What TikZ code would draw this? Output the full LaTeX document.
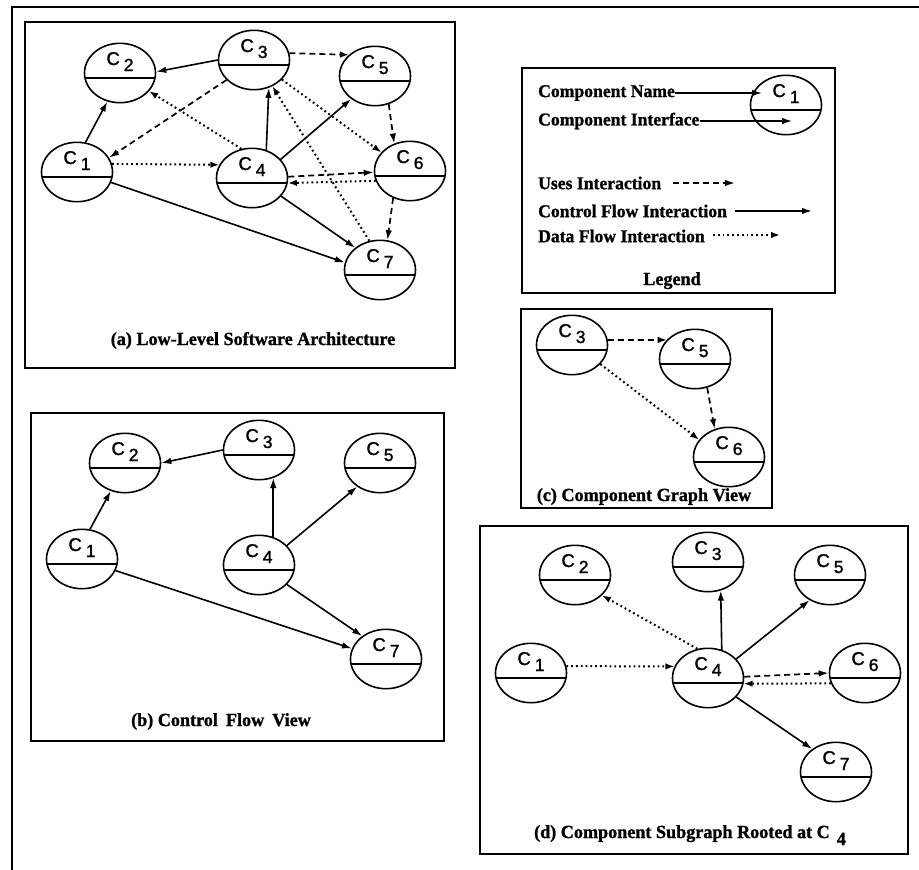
\documentclass[tikz,border=0pt]{standalone}
\usepackage{fontspec}
\setmainfont{Liberation Serif}[FakeStretch=0.98, BoldFeatures={FakeBold=1.2}]
\newfontfamily\labfont{Liberation Sans}[FakeBold=1.3]
\usetikzlibrary{arrows.meta,shapes.geometric}

% component name: C with a lowered index
\newcommand\cname[1]{C\kern4pt\raisebox{-6pt}{\fontsize{17.5}{17.5}\selectfont #1}}

\tikzset{
  comp/.style={ellipse, draw, line width=1.6pt, minimum width=71pt, minimum height=59pt,
    inner sep=0pt, font=\labfont\fontsize{18.5}{18.5}\selectfont, text height=13pt, text depth=29pt,
    path picture={\draw[line width=1.6pt]
      ([yshift=-5pt]path picture bounding box.west) -- ([yshift=-5pt]path picture bounding box.east);}},
  panel/.style={draw, line width=1.9pt},
  ctrl/.style={line width=1.6pt, -{Latex[length=10pt,width=6.5pt]}},
  uses/.style={line width=1.7pt, dash pattern=on 6pt off 4pt, -{Latex[length=10pt,width=6.5pt]}},
  usesopen/.style={line width=1.7pt, dash pattern=on 6pt off 4pt, -{Latex[open,length=9pt,width=6.5pt]}},
  data/.style={line width=2pt, dash pattern=on 1.8pt off 3pt, -{Latex[open,length=9pt,width=6.5pt]}},
  captxt/.style={font=\bfseries\fontsize{18.5}{21}\selectfont, inner sep=0pt, anchor=base},
  legtxt/.style={font=\bfseries\fontsize{18}{21}\selectfont, inner sep=0pt, anchor=west},
}

\begin{document}
\begin{tikzpicture}[x=1pt, y=-1pt]
\fill[white] (0,0) rectangle (919,870);
\useasboundingbox (0,0) rectangle (919,870);

% outer frame
\draw[line width=2pt] (12,870) -- (12,7) -- (919,7);

% panel frames
\draw[panel] (25,22) rectangle (455,368);
\draw[panel] (31,413) rectangle (444,741);
\draw[panel] (521,309) rectangle (772,508);
\draw[panel] (480,526) rectangle (908,854);
\draw[panel] (522,68) rectangle (835,293);

% (a) low-level software architecture
\node[comp] (a1) at (77,172) {\cname1};
\node[comp] (a2) at (120,73) {\cname2};
\node[comp] (a3) at (254,60) {\cname3};
\node[comp] (a4) at (252,178) {\cname4};
\node[comp] (a5) at (375,76) {\cname5};
\node[comp] (a6) at (410,171) {\cname6};
\node[comp] (a7) at (380,270) {\cname7};
\draw[ctrl] (a3.180) -- (a2.2);
\draw[ctrl] (a1.74) -- (a2.246);
\draw[uses] (a3.216) -- (a1.24);
\draw[data] (a4.110) -- (a2.328);
\draw[data] (a1.13) -- (a4.158);
\draw[ctrl] (a4.63) -- (a3.298);
\draw[ctrl] (a4.33) -- (a5.224);
\draw[usesopen] (a3.11) -- (a5.141);
\draw[data] (a3.325) -- (a6.147);
\draw[uses] (a5.296) -- (a6.120);
\draw[uses] (a4.2) -- (a6.182);
\draw[data] (a6.196) -- (a4.352);
\draw[uses] (a6.238) -- (a7.76);
\draw[ctrl] (a4.328) -- (a7.138);
\draw[ctrl] (a1.343) -- (a7.168);
\draw[data] (a7.110) -- (a3.305);
\node[captxt] (capa) at (253,345) {(a) Low-Level Software Architecture};

% (b) control flow view
\node[comp] (b1) at (82,559) {\cname1};
\node[comp] (b2) at (125,463) {\cname2};
\node[comp] (b3) at (259,450) {\cname3};
\node[comp] (b4) at (259,565) {\cname4};
\node[comp] (b5) at (380,463) {\cname5};
\node[comp] (b7) at (386,659) {\cname7};
\draw[ctrl] (b3.180) -- (b2.0);
\draw[ctrl] (b1.75) -- (b2.243);
\draw[ctrl] (b4.63) -- (b3.297);
\draw[ctrl] (b4.35) -- (b5.226);
\draw[ctrl] (b4.325) -- (b7.136);
\draw[ctrl] (b1.341) -- (b7.163);
\node[captxt] (capb) at (221,726) {(b) Control\hspace{8pt}Flow\hspace{8pt}View};

% (c) component graph view
\node[comp] (c3) at (572,345) {\cname3};
\node[comp] (c5) at (695,359) {\cname5};
\node[comp] (c6) at (729,457) {\cname6};
\draw[usesopen] (c3.8) -- (c5.146);
\draw[uses] (c5.293) -- (c6.117);
\draw[data] (c3.326) -- (c6.150);
\node[captxt] (capc) at (644,501) {(c) Component Graph View};

% (d) component subgraph rooted at C4
\node[comp] (d1) at (531,673) {\cname1};
\node[comp] (d2) at (575,575) {\cname2};
\node[comp] (d3) at (708,562) {\cname3};
\node[comp] (d4) at (708,678) {\cname4};
\node[comp] (d5) at (830,575) {\cname5};
\node[comp] (d6) at (865,673) {\cname6};
\node[comp] (d7) at (836,772) {\cname7};
\draw[data] (d4.110) -- (d2.323);
\draw[data] (d1.11) -- (d4.161);
\draw[ctrl] (d4.64) -- (d3.294);
\draw[ctrl] (d4.34) -- (d5.231);
\draw[uses] (d4.2) -- (d6.180);
\draw[data] (d6.197) -- (d4.351);
\draw[ctrl] (d4.326) -- (d7.136);
\node[captxt] (capd) at (690,838) {(d) Component Subgraph Rooted at C\hspace{7pt}\raisebox{-7pt}{4}};

% legend
\node[comp] (lc1) at (786,105) {\cname1};
\node[legtxt] (lname) at (538,93) {Component Name};
\node[legtxt] (liface) at (538,121) {Component Interface};
\coordinate (nametip) at (762,92);
\coordinate (ifacetip) at (792,121);
\draw[ctrl, line width=1.3pt] (lname.east) -- (lname.east -| nametip);
\draw[ctrl, line width=1.3pt] (liface.east) -- (liface.east -| ifacetip);
\node[legtxt] (luses) at (538,183) {Uses Interaction};
\node[legtxt] (lctrl) at (538,211) {Control Flow Interaction};
\node[legtxt] (ldata) at (538,236) {Data Flow Interaction};
\coordinate (usesA) at (673,183);
\coordinate (usesB) at (735,183);
\coordinate (ctrlA) at (735,211);
\coordinate (ctrlB) at (812,211);
\coordinate (dataA) at (713,235);
\coordinate (dataB) at (780,235);
\draw[uses] (usesA) -- (usesB);
\draw[ctrl] (ctrlA) -- (ctrlB);
\draw[data] (dataA) -- (dataB);
\node[captxt] (legtitle) at (672,285) {Legend};
\end{tikzpicture}
\end{document}
